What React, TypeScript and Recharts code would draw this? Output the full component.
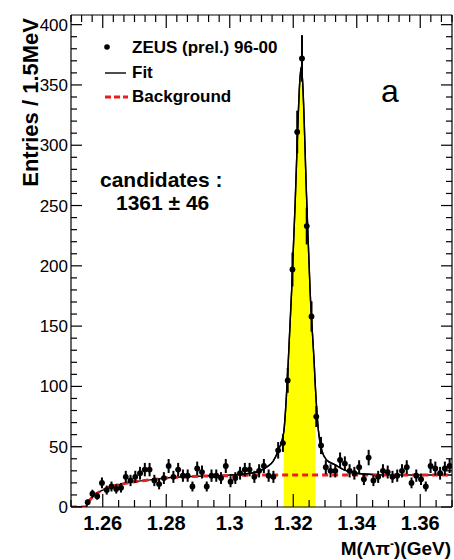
import React from "react";
import { ComposedChart, XAxis, YAxis, Scatter, Line, Area, ErrorBar, ReferenceLine } from "recharts";

// histogram: 1.5 MeV bins from 1.25 GeV, first filled bin is bin 3
const BIN_LO = 1.25;
const BIN_W = 0.0015;
const FIRST_BIN = 3;
const entries = [
  4, 11, 9, 20, 14, 17, 15, 16, 25, 22, 25, 28, 31, 31, 22, 19, 24, 34, 25, 31,
  26, 26, 17, 32, 29, 17, 26, 26, 24, 34, 21, 24, 28, 31, 31, 25, 30, 34, 26, 25,
  47, 53, 105, 197, 311, 372, 233, 158, 75, 51, 33, 30, 30, 39, 36, 30, 28, 33, 23, 41,
  22, 25, 30, 29, 25, 26, 30, 33, 20, 26, 23, 17, 34, 32, 28, 32, 34,
];

// fit (signal + background)
const fitMass = [
  1.25, 1.2545, 1.256, 1.258, 1.26, 1.263, 1.266, 1.27, 1.275, 1.28, 1.29, 1.3,
  1.3064, 1.3085, 1.3116, 1.3137, 1.3153, 1.317, 1.3184, 1.3195, 1.3206, 1.3214,
  1.3221, 1.3225, 1.3229, 1.3242, 1.3253, 1.3266, 1.327, 1.3279, 1.329, 1.3305,
  1.3332, 1.3358, 1.34, 1.345, 1.35, 1.37,
];
const fitValue = [
  0, 0, 6, 11, 14, 17, 19, 21, 22.5, 24, 25.5, 26.5,
  28, 29, 33, 38, 47, 62, 119, 180, 252, 313,
  355, 365, 355, 257, 180, 119, 98, 64, 47, 39,
  35, 31, 28, 27, 26.5, 26.5,
];

// background only
const bgMass = [1.25, 1.2545, 1.256, 1.258, 1.26, 1.263, 1.266, 1.27, 1.275, 1.28, 1.29, 1.3, 1.31, 1.37];
const bgValue = [0, 0, 6, 11, 14, 17, 19, 21, 22.5, 24, 25.5, 26, 26.5, 26.5];

// signal window (yellow)
const SIG_LO = 1.317;
const SIG_HI = 1.327;

const X_MIN = 1.25;
const X_MAX = 1.37;
const Y_MAX = 408;
const xMajor = [1.26, 1.28, 1.3, 1.32, 1.34, 1.36];
const yMajor = [0, 50, 100, 150, 200, 250, 300, 350, 400];

const FONT = "'Liberation Sans', Arial, Helvetica, sans-serif";
const RED = "#ee1c1c";

const points = entries.map((n, i) => ({
  x: BIN_LO + (FIRST_BIN + i + 0.5) * BIN_W,
  y: n,
  ey: Math.sqrt(n),
  ex: BIN_W / 2,
}));
const fitData = fitMass.map((x, i) => ({ x, y: fitValue[i] }));
const peakData = fitData.filter((d) => d.x >= 1.3 && d.x <= 1.345);
const sigData = fitData.filter((d) => d.x >= SIG_LO && d.x <= SIG_HI);
const bgData = bgMass.map((x, i) => ({ x, y: bgValue[i] }));

const xTicks: number[] = [];
for (let i = 0; i <= 24; i++) xTicks.push(Number((1.25 + i * 0.005).toFixed(4)));
const xTopTicks: number[] = [];
for (let i = 0; i <= 36; i++) xTopTicks.push(Number((1.25 + i * (0.02 / 6)).toFixed(5)));
const yTicks: number[] = [];
for (let v = 0; v <= 400; v += 10) yTicks.push(v);

const isMajor = (v: number, list: number[]) => list.some((m) => Math.abs(m - v) < 1e-6);

// tick lengths in data units (plot is ~381 x 492 px)
const X_PER_PX = (X_MAX - X_MIN) / 381;
const Y_PER_PX = Y_MAX / 492;

const BottomLabel = (props: any) => {
  const { x, y, payload } = props;
  if (!isMajor(payload.value, xMajor)) return <g />;
  return (
    <text x={x} y={y + 23} textAnchor="middle" fontFamily={FONT} fontWeight="bold" fontSize={20} fill="#000">
      {String(payload.value)}
    </text>
  );
};

const LeftLabel = (props: any) => {
  const { x, y, payload } = props;
  if (!isMajor(payload.value, yMajor)) return <g />;
  return (
    <text x={x - 3} y={y + 6} textAnchor="end" fontFamily={FONT} fontSize={17} fill="#000">
      {payload.value}
    </text>
  );
};

const Dot = (props: any) => <circle cx={props.cx} cy={props.cy} r={2.9} fill="#000" />;

const tickStroke = { stroke: "#000", strokeWidth: 1.2, ifOverflow: "visible" as const };

const App: React.FC = () => (
  <div style={{ position: "absolute", left: 0, top: 0, width: 454, height: 560, background: "#fff" }}>
    <ComposedChart width={454} height={560} margin={{ top: 15, right: 2, bottom: 0, left: 0 }}>
      <XAxis
        type="number"
        dataKey="x"
        domain={[X_MIN, X_MAX]}
        allowDataOverflow
        ticks={xTicks}
        interval={0}
        tickSize={0}
        tickMargin={0}
        tickLine={false}
        axisLine={false}
        tick={(p: any) => <BottomLabel {...p} />}
        height={53}
      />
      <YAxis
        type="number"
        domain={[0, Y_MAX]}
        allowDataOverflow
        ticks={yTicks}
        interval={0}
        tickSize={0}
        tickMargin={0}
        tickLine={false}
        axisLine={false}
        tick={(p: any) => <LeftLabel {...p} />}
        width={71}
      />
      <Line data={fitData} dataKey="y" type="monotone" stroke="#000" strokeWidth={1.4} dot={false} isAnimationActive={false} />
      <Line
        data={bgData}
        dataKey="y"
        type="monotone"
        stroke={RED}
        strokeWidth={3}
        strokeDasharray="6 4"
        dot={false}
        isAnimationActive={false}
      />
      <Area data={sigData} dataKey="y" type="monotone" fill="#ffff00" fillOpacity={1} stroke="none" isAnimationActive={false} />
      <Line data={peakData} dataKey="y" type="monotone" stroke="#000" strokeWidth={1.4} dot={false} isAnimationActive={false} />

      {/* frame */}
      <ReferenceLine x={X_MIN} {...tickStroke} />
      <ReferenceLine x={X_MAX} {...tickStroke} />
      <ReferenceLine y={0} {...tickStroke} />
      <ReferenceLine y={Y_MAX} {...tickStroke} />

      {/* inward ticks: bottom, top, left, right */}
      {xTicks.map((v) => (
        <ReferenceLine
          key={`b${v}`}
          segment={[{ x: v, y: 0 }, { x: v, y: (isMajor(v, xMajor) ? 13 : 7) * Y_PER_PX }]}
          {...tickStroke}
        />
      ))}
      {xTopTicks.map((v) => (
        <ReferenceLine
          key={`t${v}`}
          segment={[{ x: v, y: Y_MAX }, { x: v, y: Y_MAX - (isMajor(v, xMajor) ? 13 : 7) * Y_PER_PX }]}
          {...tickStroke}
        />
      ))}
      {yTicks.map((v) => (
        <ReferenceLine
          key={`l${v}`}
          segment={[{ x: X_MIN, y: v }, { x: X_MIN + (isMajor(v, yMajor) ? 11 : 6) * X_PER_PX, y: v }]}
          {...tickStroke}
        />
      ))}
      {yTicks.map((v) => (
        <ReferenceLine
          key={`r${v}`}
          segment={[{ x: X_MAX, y: v }, { x: X_MAX - (isMajor(v, yMajor) ? 11 : 6) * X_PER_PX, y: v }]}
          {...tickStroke}
        />
      ))}

      <Scatter data={points} dataKey="y" shape={<Dot />} isAnimationActive={false}>
        <ErrorBar dataKey="ey" direction="y" width={0} stroke="#000" strokeWidth={2} />
        <ErrorBar dataKey="ex" direction="x" width={0} stroke="#000" strokeWidth={2} />
      </Scatter>
    </ComposedChart>
    <svg width={454} height={560} style={{ position: "absolute", left: 0, top: 0, pointerEvents: "none" }}>
      <text transform="translate(38,18) rotate(-90)" textAnchor="end" fontFamily={FONT} fontWeight="bold" fontSize={22} fill="#000">
        Entries / 1.5MeV
      </text>
      <text x={451} y={555} textAnchor="end" fontFamily={FONT} fontWeight="bold" fontSize={19} fill="#000">
        <tspan>M(Λπ</tspan>
        <tspan dy={-7} fontSize={12}>-</tspan>
        <tspan dy={7}>)(GeV)</tspan>
      </text>
      <circle cx={107} cy={47} r={2.8} fill="#000" />
      <text x={132} y={53} fontFamily={FONT} fontWeight="bold" fontSize={17} fill="#000">ZEUS (prel.) 96-00</text>
      <line x1={105} y1={73} x2={126} y2={73} stroke="#000" strokeWidth={1.4} />
      <text x={132} y={78} fontFamily={FONT} fontWeight="bold" fontSize={17} fill="#000">Fit</text>
      <line x1={105} y1={97} x2={128} y2={97} stroke={RED} strokeWidth={3} strokeDasharray="6 3" />
      <text x={132} y={102} fontFamily={FONT} fontWeight="bold" fontSize={17} fill="#000">Background</text>
      <text x={381} y={102} fontFamily={FONT} fontSize={32} fill="#000">a</text>
      <text x={100} y={187} fontFamily={FONT} fontWeight="bold" fontSize={21} fill="#000">candidates :</text>
      <text x={116} y={210} fontFamily={FONT} fontWeight="bold" fontSize={21} fill="#000">1361 ± 46</text>
    </svg>
  </div>
);

export default App;
